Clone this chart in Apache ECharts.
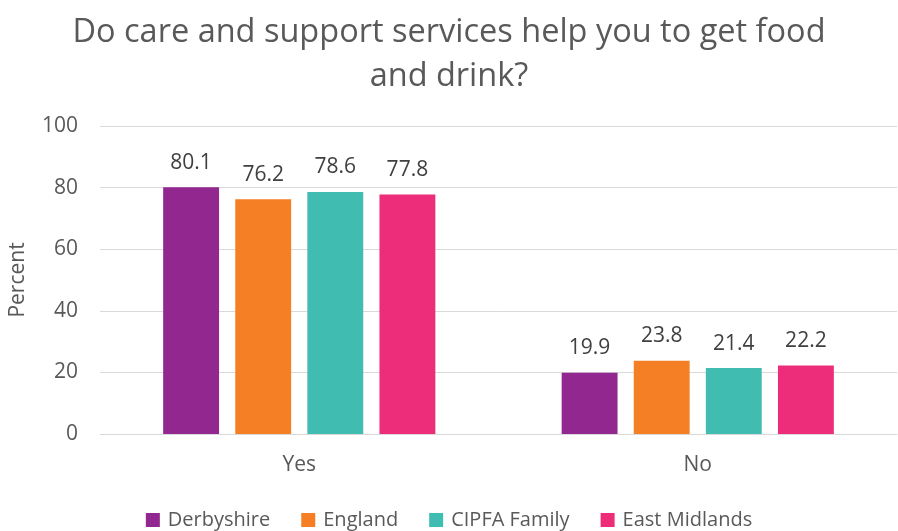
<!DOCTYPE html>
<html>
<head>
<meta charset="utf-8">
<script src="https://cdn.jsdelivr.net/npm/echarts@6/dist/echarts.min.js"></script>
<style>
  html, body { margin: 0; padding: 0; background: #ffffff; }
  #chart { width: 898px; height: 531px; }
</style>
</head>
<body>
<div id="chart"></div>
<script>
// Answers to the survey question, by area
const categories = ['Yes', 'No'];
const seriesNames = ['Derbyshire', 'England', 'CIPFA Family', 'East Midlands'];
const derbyshire = [80.1, 19.9];
const england = [76.2, 23.8];
const cipfaFamily = [78.6, 21.4];
const eastMidlands = [77.8, 22.2];
const yTicks = [0, 20, 40, 60, 80, 100];

const colors = ['#92278F', '#F47F24', '#40BCB0', '#EE2D7A'];
const values = [derbyshire, england, cipfaFamily, eastMidlands];
const fontFamily = 'Open Sans, Liberation Sans, sans-serif';

const chart = echarts.init(document.getElementById('chart'), null, { renderer: 'canvas' });

chart.setOption({
  animation: false,
  title: {
    text: 'Do care and support services help you to get food\nand drink?',
    left: 'center',
    top: 6,
    textStyle: {
      fontFamily: fontFamily,
      fontSize: 32.5,
      fontWeight: 'normal',
      color: '#595959',
      lineHeight: 44,
      align: 'center'
    }
  },
  legend: {
    data: seriesNames,
    top: 505,
    left: 'center',
    icon: 'rect',
    itemWidth: 14,
    itemHeight: 14,
    itemGap: 31,
    textStyle: { fontFamily: fontFamily, fontSize: 20, color: '#595959', padding: [0, 0, 0, 3] }
  },
  grid: { left: 100, right: 1, top: 126, bottom: 97, containLabel: false },
  xAxis: {
    type: 'category',
    data: categories,
    axisLine: { lineStyle: { color: '#d9d9d9', width: 1 } },
    axisTick: { show: false },
    axisLabel: { fontFamily: fontFamily, fontSize: 21, color: '#595959', margin: 21 }
  },
  yAxis: {
    type: 'value',
    min: yTicks[0],
    max: yTicks[yTicks.length - 1],
    interval: 20,
    name: 'Percent',
    nameLocation: 'middle',
    nameGap: 71,
    nameTextStyle: { fontFamily: fontFamily, fontSize: 21, color: '#595959' },
    axisLine: { show: false },
    axisTick: { show: false },
    splitLine: { lineStyle: { color: '#d9d9d9', width: 1 } },
    axisLabel: { fontFamily: fontFamily, fontSize: 21, color: '#595959', margin: 22 }
  },
  series: seriesNames.map((name, i) => ({
    name: name,
    type: 'bar',
    data: values[i],
    barGap: '29%',
    barCategoryGap: '31.7%',
    itemStyle: { color: colors[i] },
    label: {
      show: true,
      position: 'top',
      distance: 14,
      fontFamily: fontFamily,
      fontSize: 21,
      color: '#404040',
      formatter: p => p.value.toFixed(1)
    }
  }))
});
</script>
</body>
</html>
